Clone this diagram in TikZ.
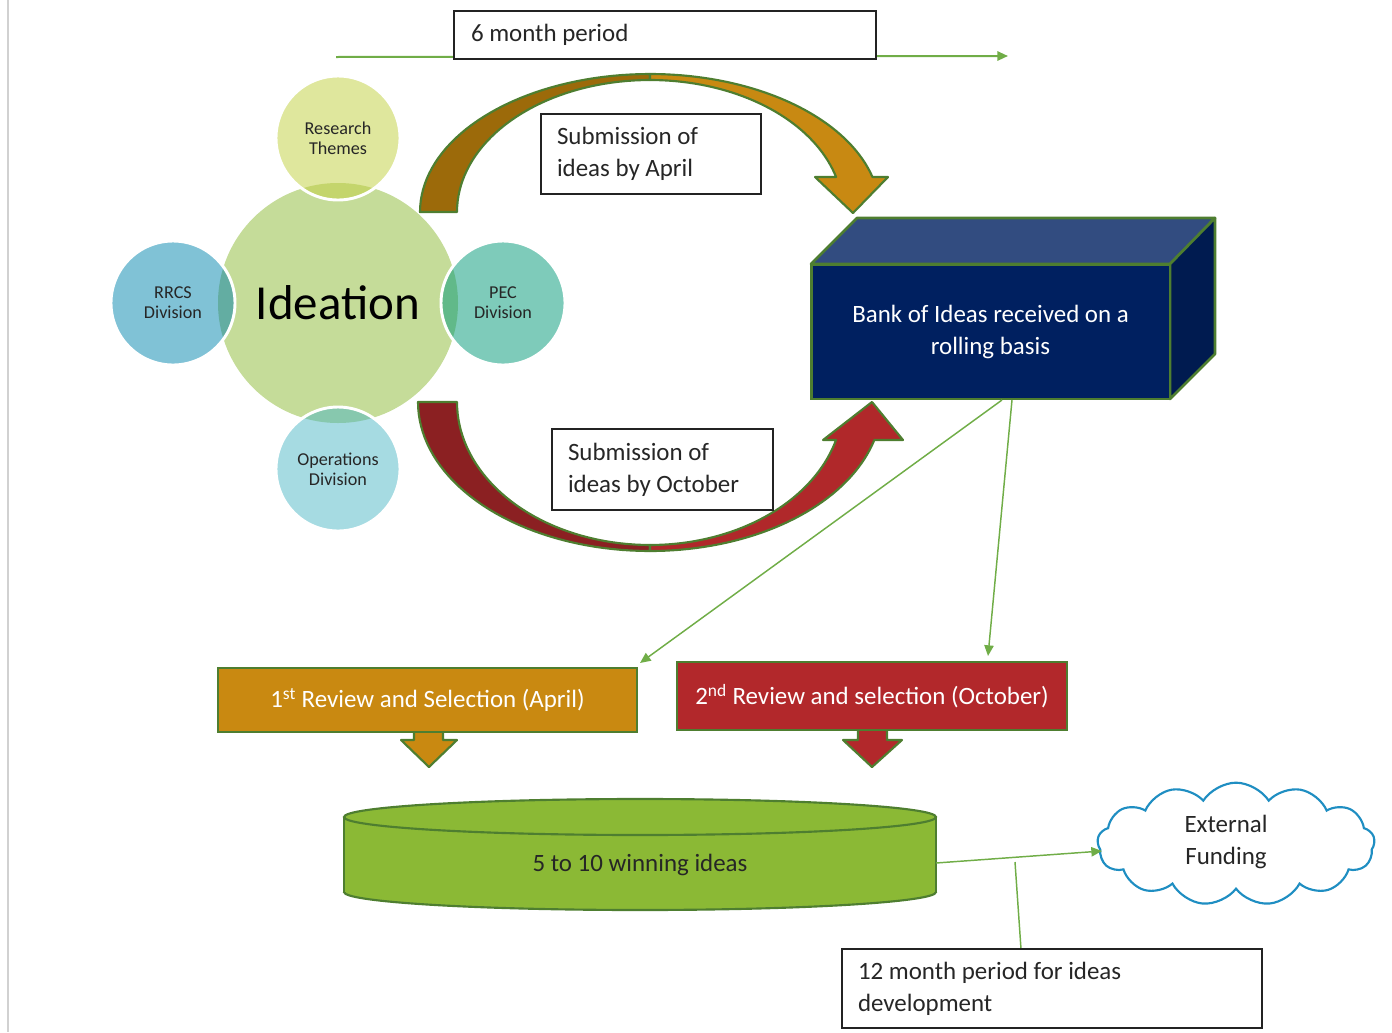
\documentclass[tikz,border=0pt]{standalone}
\usepackage{fontspec}
\setmainfont{Carlito}
\usetikzlibrary{arrows.meta,shapes.symbols}
\definecolor{ideafill}{RGB}{197,220,153}
\definecolor{resfill}{RGB}{223,231,157}
\definecolor{resov}{RGB}{196,213,108}
\definecolor{rrcsfill}{RGB}{128,194,214}
\definecolor{rrcsov}{RGB}{99,173,162}
\definecolor{pecfill}{RGB}{126,203,186}
\definecolor{pecov}{RGB}{97,185,137}
\definecolor{opsfill}{RGB}{166,219,226}
\definecolor{opsov}{RGB}{135,200,174}
\definecolor{linegreen}{RGB}{112,173,71}
\definecolor{bordergreen}{RGB}{78,126,48}
\definecolor{golddark}{RGB}{156,106,10}
\definecolor{goldlight}{RGB}{200,137,18}
\definecolor{reddark}{RGB}{139,32,34}
\definecolor{redlight}{RGB}{176,40,42}
\definecolor{navyfront}{RGB}{0,32,96}
\definecolor{navytop}{RGB}{50,76,128}
\definecolor{navyside}{RGB}{0,27,80}
\definecolor{revone}{RGB}{201,137,17}
\definecolor{revtwo}{RGB}{178,40,43}
\definecolor{cylfill}{RGB}{139,185,53}
\definecolor{cloudblue}{RGB}{31,142,194}
\definecolor{boxline}{RGB}{35,35,35}
\newcommand\fsnorm{\fontsize{18.7pt}{24pt}\selectfont}
\newcommand\fssmall{\fontsize{13.6pt}{15pt}\selectfont}
\newcommand\fsbig{\fontsize{36.7pt}{44pt}\selectfont}
\begin{document}
\begin{tikzpicture}[x=0.75pt,y=-0.75pt,
  tbox/.style={draw=boxline, line width=1.1pt, fill=white, align=flush left, inner xsep=12pt, font=\fsnorm, text=black!85},
  conn/.style={draw=linegreen, line width=1.1pt, -{Triangle[length=8pt,width=7pt]}},
  connplain/.style={draw=linegreen, line width=1.1pt},
  sat/.style={circle, minimum size=93pt, inner sep=0pt, align=flush center, font=\fssmall, text=black!85},
  satline/.style={draw=white, line width=2.2pt},
  blk/.style={draw=bordergreen, line width=1.6pt, line join=round},
  rev/.style={draw=bordergreen, line width=1.8pt, text=white, font=\fsnorm, inner sep=0pt}]
\useasboundingbox (0,0) rectangle (1392,1032);
% left margin line
\coordinate (gl1) at (8,0); \coordinate (gl2) at (8,1032);
\draw[black!18, line width=1.2pt] (gl1) -- (gl2);

% timeline
\coordinate (tlS) at (336,57); \coordinate (tlE) at (1008,56);
\draw[conn, line width=1.5pt] (tlS) -- (tlE);
\node[tbox, minimum width=316.5pt, minimum height=36pt, text width=291pt, inner xsep=12.75pt] (six) at (665,35) {6 month period};

% ideation cluster
\fill[ideafill] (338,303) circle[radius=90pt];
\node[sat, fill=resfill] (res) at (338,138) {};
\node[sat, fill=rrcsfill] (rrcs) at (173,303) {};
\node[sat, fill=pecfill] (pec) at (503,303) {};
\node[sat, fill=opsfill] (ops) at (338,469) {};
\begin{scope}
  \clip (338,303) circle[radius=90pt];
  \fill[resov] (338,138) circle[radius=46.5pt];
  \fill[rrcsov] (173,303) circle[radius=46.5pt];
  \fill[pecov] (503,303) circle[radius=46.5pt];
  \fill[opsov] (338,469) circle[radius=46.5pt];
\end{scope}
\draw[satline] (338,138) circle[radius=46.5pt];
\draw[satline] (173,303) circle[radius=46.5pt];
\draw[satline] (503,303) circle[radius=46.5pt];
\draw[satline] (338,469) circle[radius=46.5pt];
\node[font=\fssmall, align=flush center, text=black!85] (resT) at (res) {Research\\Themes};
\node[font=\fssmall, align=flush center, text=black!85] (rrcsT) at (rrcs) {RRCS\\Division};
\node[font=\fssmall, align=flush center, text=black!85] (pecT) at (pec) {PEC\\Division};
\node[font=\fssmall, align=flush center, text=black!85] (opsT) at (ops) {Operations\\Division};
\node[font=\fsbig, text=black] (idea) at (338,303) {Ideation};

% top curved arrow
\filldraw[blk, fill=golddark]
  plot[domain=0:90, samples=40] ({650+230*cos(180-\x)},{212-138*sin(180-\x)})
  -- plot[domain=90:180, samples=40] ({650+193*cos(\x)},{212-132*sin(\x)}) -- cycle;
\filldraw[blk, fill=goldlight]
  plot[domain=0:75.31, samples=40] ({650+230*cos(90-\x)},{212-138*sin(90-\x)})
  -- (888,177) -- (853,213) -- (815,177)
  -- plot[domain=15.38:90, samples=40] ({650+193*cos(\x)},{212-132*sin(\x)}) -- cycle;
\node[tbox, minimum width=165pt, minimum height=60pt, text width=141pt, inner xsep=12pt] (subA) at (651,154) {Submission of\\ideas by April};

% bottom curved arrow
\filldraw[blk, fill=reddark]
  plot[domain=0:90, samples=40] ({650+232*cos(180-\x)},{402+149*sin(180-\x)})
  -- plot[domain=90:180, samples=40] ({650+193*cos(\x)},{402+143*sin(\x)}) -- cycle;
\filldraw[blk, fill=redlight]
  plot[domain=0:75.22, samples=40] ({650+232*cos(90-\x)},{402+149*sin(90-\x)})
  -- (903,440) -- (872,402) -- (823,440)
  -- plot[domain=15.41:90, samples=40] ({650+193*cos(\x)},{402+143*sin(\x)}) -- cycle;
\node[tbox, minimum width=165.75pt, minimum height=60.75pt, text width=141.75pt, inner xsep=12pt] (subO) at (662.5,469.5) {Submission of\\ideas by October};

% bank of ideas box
\filldraw[blk, line width=2pt, fill=navytop] (811,264) -- (857,218) -- (1215,218) -- (1170,264) -- cycle;
\filldraw[blk, line width=2pt, fill=navyside] (1170,264) -- (1215,218) -- (1215,354) -- (1170,399) -- cycle;
\node[draw=bordergreen, line width=2pt, fill=navyfront, minimum width=269pt, minimum height=101pt, align=flush center, text=white, font=\fsnorm] (bank) at (990.5,331.5) {Bank of Ideas received on a\\rolling basis};

% connectors from bank
\coordinate (bk1) at (1002,400); \coordinate (r1end) at (640,663);
\coordinate (bk2) at (1012,400); \coordinate (r2end) at (988,656);
\draw[conn] (bk1) -- (r1end);
\draw[conn] (bk2) -- (r2end);

% review boxes
\node[rev, fill=revone, minimum width=314pt, minimum height=48pt] (rev1) at (427.5,700) {1\textsuperscript{st} Review and Selection (April)};
\filldraw[blk, fill=revone] (414,733) -- (414,740) -- (401,740) -- (429,767) -- (457,740) -- (443,740) -- (443,733);
\node[rev, fill=revtwo, minimum width=292.5pt, minimum height=51pt] (rev2) at (872,696) {2\textsuperscript{nd} Review and selection (October)};
\filldraw[blk, fill=revtwo] (858,731) -- (858,740) -- (843,740) -- (872,767) -- (902,740) -- (887,740) -- (887,731);

% cylinder
\fill[cylfill] (344,817) rectangle (936,892);
\fill[cylfill] (640,892) ellipse[x radius=222pt, y radius=13.5pt];
\begin{scope}
  \clip (300,892) rectangle (1000,960);
  \draw[bordergreen, line width=1.6pt] (640,892) ellipse[x radius=222pt, y radius=13.5pt];
\end{scope}
\draw[bordergreen, line width=1.6pt] (344,817) -- (344,892);
\draw[bordergreen, line width=1.6pt] (936,817) -- (936,892);
\filldraw[fill=cylfill, draw=bordergreen, line width=1.6pt] (640,817) ellipse[x radius=222pt, y radius=13.5pt];
\node[font=\fsnorm, text=black!85] (cyl) at (640,865) {5 to 10 winning ideas};

% cloud
\node[cloud, cloud puffs=13, cloud puff arc=115, aspect=2.2, draw=cloudblue, line width=1.6pt, fill=white,
  minimum width=208pt, minimum height=92pt, inner sep=2pt] (cloudn) at (1236,844) {};
\node[align=flush center, font=\fsnorm, text=black!85] (cloudT) at (1226,842) {External\\Funding};

% connectors at bottom
\coordinate (cylR) at (936,863); \coordinate (cloudL) at (1102,851);
\draw[conn] (cylR) -- (cloudL);
\coordinate (tap) at (1015,862); \coordinate (m12top) at (1021,949);
\draw[connplain] (tap) -- (m12top);
\node[tbox, minimum width=315pt, minimum height=59.25pt, text width=291pt, inner xsep=12pt] (m12) at (1052,988.5) {12 month period for ideas\\development};
\end{tikzpicture}
\end{document}
